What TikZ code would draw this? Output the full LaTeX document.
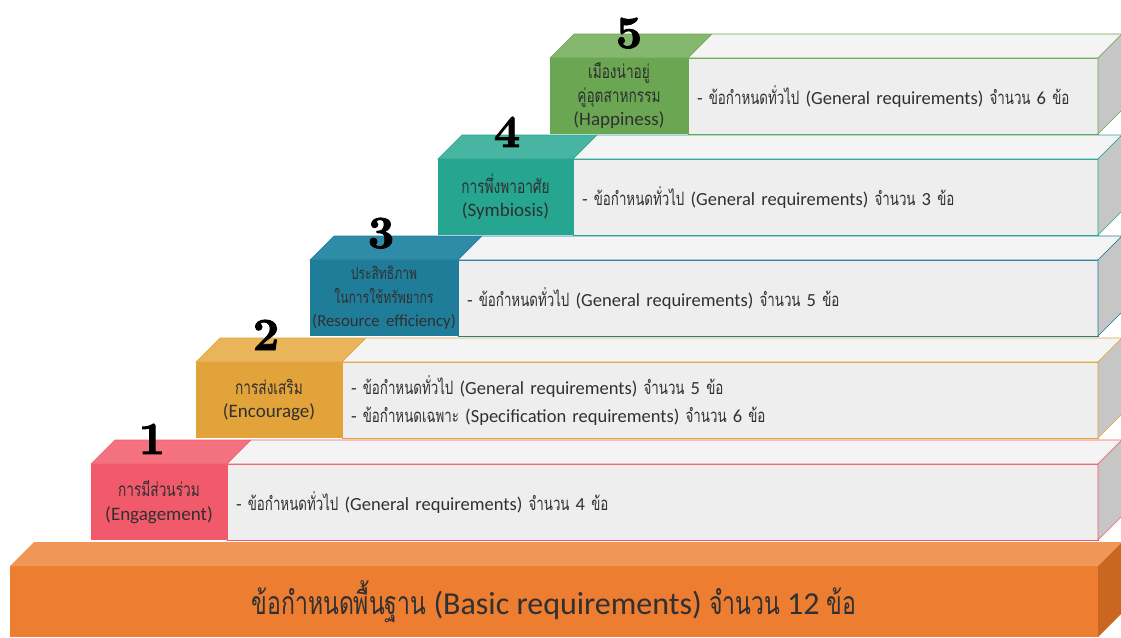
\documentclass[tikz,border=0pt]{standalone}
\usepackage{fontspec}
\setmainfont{Carlito}
\newfontfamily\tha[Script=Thai,FakeStretch=0.72]{Loma}
\newfontfamily\numfont[FakeBold=2]{lmroman10-bold.otf}
\definecolor{pinkF}{HTML}{F15A6B}
\definecolor{pinkT}{HTML}{F4727F}
\definecolor{goldF}{HTML}{E2A33B}
\definecolor{goldT}{HTML}{E9B45A}
\definecolor{blueF}{HTML}{1F7D9A}
\definecolor{blueT}{HTML}{2E8CA9}
\definecolor{tealF}{HTML}{26A590}
\definecolor{tealT}{HTML}{48B4A2}
\definecolor{greenF}{HTML}{6BA753}
\definecolor{greenT}{HTML}{85B76F}
\definecolor{orgF}{HTML}{ED7D31}
\definecolor{orgT}{HTML}{F09656}
\definecolor{orgS}{HTML}{C9661F}
\definecolor{wF}{HTML}{EEEEEE}
\definecolor{wT}{HTML}{F4F4F4}
\definecolor{wS}{HTML}{C6C6C6}
\definecolor{txt}{HTML}{303030}
\newcommand\gen[1]{- {\tha ข้อกำหนดทั่วไป} (General requirements) {\tha จำนวน} #1 {\tha ข้อ}}
% #1 id, #2 left, #3 top, #4 label right, #5 front colour, #6 top colour, #7 label, #8 content
\newcommand\stairstep[8]{%
  \node[labbox, fill=#5, text width={#4-#2}, minimum width={#4-#2}] (lab#1) at (#2,#3) {#7};
  \node[conbox, draw=#5, text width={1098-#4-18}, minimum width={1098-#4}] (con#1) at (#4,#3) {#8};
  \filldraw[fill=#6, draw=#5, line width=0.6pt] (lab#1.north west) -- ++(24,-24) -- ++({#4-#2},0) -- (con#1.north west) -- cycle;
  \filldraw[fill=wT, draw=#5, line width=0.6pt] (con#1.north west) -- ++(24,-24) -- ++({1098-#4},0) -- (con#1.north east) -- cycle;
  \filldraw[fill=wS, draw=#5, line width=0.6pt] (con#1.north east) -- ++(24,-24) -- ++(0,76) -- (con#1.south east) -- cycle;
}
\tikzset{
  labbox/.style={anchor=north west, minimum height=76pt, inner sep=0pt, outer sep=0pt, align=center, text=txt, font=\fontsize{19}{23.5}\selectfont},
  conbox/.style={anchor=north west, fill=wF, line width=0.6pt, minimum height=76pt, inner xsep=9pt, inner ysep=0pt, outer sep=0pt, align=left, text=txt, font=\fontsize{18.5}{28}\selectfont},
  num/.style={font=\fontsize{46}{46}\numfont, text=black, inner sep=0pt, anchor=base}
}
\begin{document}
\begin{tikzpicture}[x=1pt,y=-1pt]
\useasboundingbox (0,0) rectangle (1121,637);
% base
\node[anchor=north west, fill=orgF, minimum width=1088pt, minimum height=71pt, inner sep=0pt, outer sep=0pt, text=txt, font=\fontsize{32}{32}\selectfont] (base) at (10,566) {{\tha ข้อกำหนดพื้นฐาน} (Basic requirements) {\tha จำนวน} 12 {\tha ข้อ}};
\fill[orgT] (base.north west) -- ++(24,-24) -- ++(1088,0) -- (base.north east) -- cycle;
\fill[orgS] (base.north east) -- ++(24,-24) -- ++(0,71) -- (base.south east) -- cycle;
% steps
\stairstep{1}{91}{464}{227}{pinkF}{pinkT}{{\tha การมีส่วนร่วม}\\(Engagement)}{\gen{4}}
\stairstep{2}{196}{362}{342}{goldF}{goldT}{{\tha การส่งเสริม}\\(Encourage)}{\gen{5}\\- {\tha ข้อกำหนดเฉพาะ} (Specification requirements) {\tha จำนวน} 6 {\tha ข้อ}}
\stairstep{3}{310}{260}{458}{blueF}{blueT}{\fontsize{16.8}{23.5}\selectfont{\tha ประสิทธิภาพ}\\{\tha ในการใช้ทรัพยากร}\\(Resource efficiency)}{\gen{5}}
\stairstep{4}{438}{159}{573}{tealF}{tealT}{{\tha การพึ่งพาอาศัย}\\(Symbiosis)}{\gen{3}}
\stairstep{5}{550}{58}{688}{greenF}{greenT}{{\tha เมืองน่าอยู่}\\{\tha คู่อุตสาหกรรม}\\(Happiness)}{\gen{6}}
% numbers
\node[num] (n1) at (152,454) {1};
\node[num] (n2) at (266,350) {2};
\node[num] (n3) at (381,248) {3};
\node[num] (n4) at (507,147) {4};
\node[num] (n5) at (629,48) {5};
\end{tikzpicture}
\end{document}
